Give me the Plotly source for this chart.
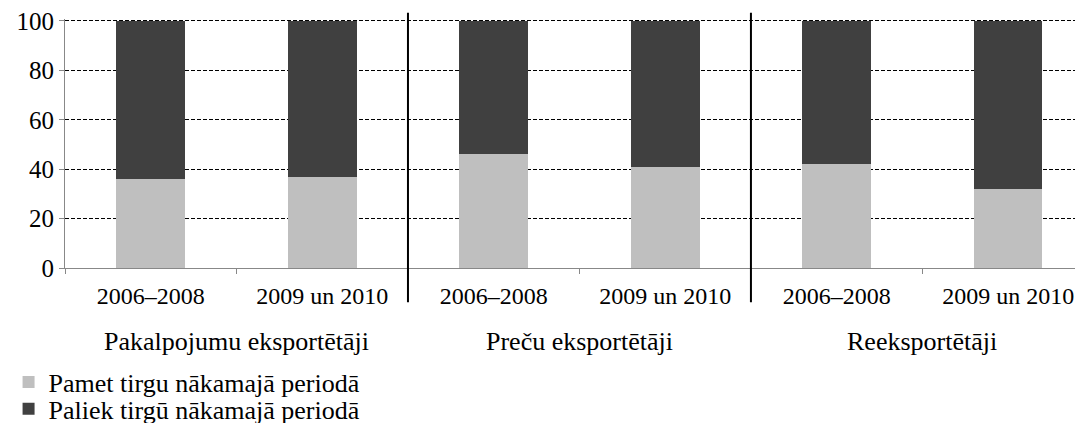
import plotly.graph_objects as go

# categories (period within each exporter group)
periods = ["2006–2008", "2009 un 2010", "2006–2008", "2009 un 2010", "2006–2008", "2009 un 2010"]
groups = ["Pakalpojumu eksportētāji", "Preču eksportētāji", "Reeksportētāji"]

# shares, %
pamet = [36, 37, 46, 41, 42, 32]
paliek = [64, 63, 54, 59, 58, 68]

x = list(range(len(periods)))
font = "Liberation Serif"

fig = go.Figure()
fig.add_trace(go.Bar(x=x, y=pamet, name="Pamet tirgu nākamajā periodā",
                     marker=dict(color="#BFBFBF", line=dict(width=0)), width=0.4,
                     legend="legend"))
fig.add_trace(go.Bar(x=x, y=paliek, name="Paliek tirgū nākamajā periodā",
                     marker=dict(color="#404040", line=dict(width=0)), width=0.4,
                     legend="legend2"))

# group separators and group labels
for i, g in enumerate(groups):
    if i > 0:
        fig.add_shape(type="line", xref="x", yref="paper",
                      x0=2 * i - 0.5, x1=2 * i - 0.5, y0=-0.138, y1=1.025,
                      line=dict(color="black", width=2))
    fig.add_annotation(x=2 * i + 0.5, y=-0.295, xref="x", yref="paper",
                       xanchor="center", yanchor="middle",
                       text=g, showarrow=False, font=dict(size=26, family=font))

leg = dict(xref="paper", yref="paper", x=-0.055, xanchor="left", yanchor="middle",
           font=dict(size=26, family=font), bgcolor="rgba(0,0,0,0)")

# tick marks sit between categories
boundaries = [i - 0.5 for i in range(len(periods) + 1)]

fig.update_layout(
    barmode="stack",
    width=1083, height=423,
    margin=dict(l=57, r=0, t=11, b=163, autoexpand=False),
    plot_bgcolor="white", paper_bgcolor="white",
    font=dict(family=font, size=24, color="black"),
    showlegend=True,
    legend=dict(leg, y=-0.458),
    legend2=dict(leg, y=-0.566),
    xaxis=dict(range=[-0.5, 5.483], tickmode="array", tickvals=x, ticktext=periods,
               ticks="", ticklabelstandoff=6,
               minor=dict(tickmode="array", tickvals=boundaries, ticks="outside",
                          ticklen=5, tickcolor="#888", showgrid=False),
               ticklabeloverflow="allow", tickfont=dict(size=24, family=font),
               showline=True, linecolor="#888", showgrid=False, zeroline=False),
    yaxis=dict(range=[0, 100.8], tickmode="array", tickvals=[0, 20, 40, 60, 80, 100],
               ticks="outside", ticklen=5, tickcolor="#888",
               ticklabeloverflow="allow", tickfont=dict(size=25, family=font),
               showline=True, linecolor="#888", showgrid=True, gridcolor="black",
               griddash="4px,2px", gridwidth=1, zeroline=False),
)

fig.write_html("out.html")
